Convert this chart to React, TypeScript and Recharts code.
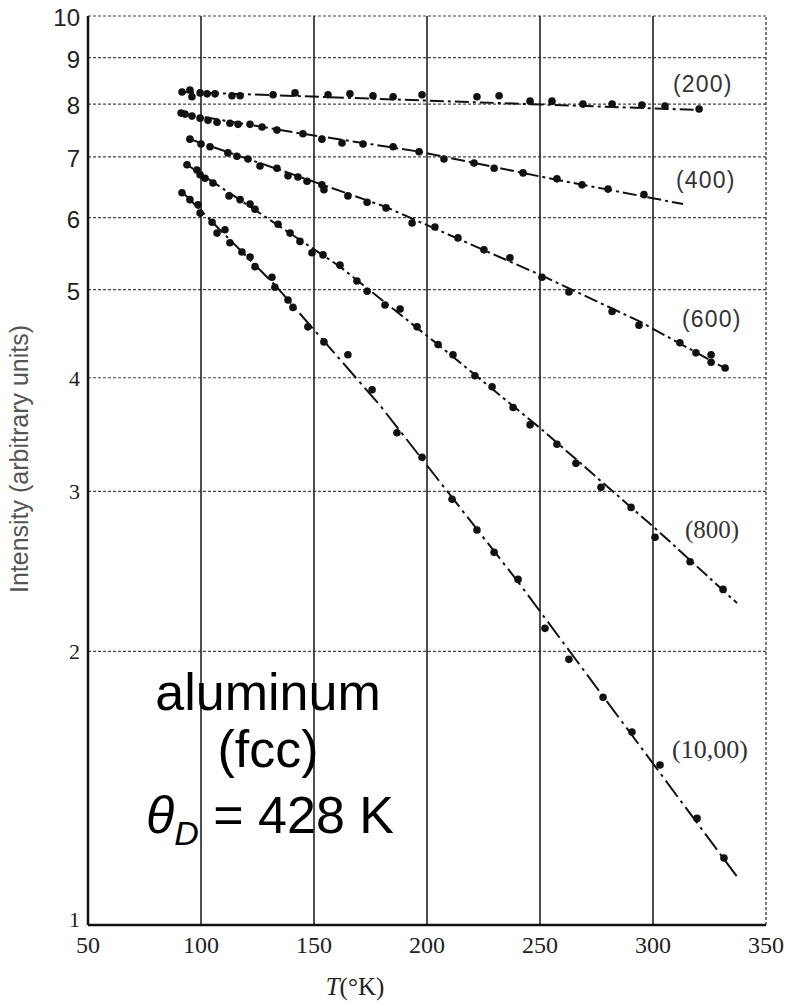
import React from 'react';
import { ScatterChart, Scatter, XAxis, YAxis, CartesianGrid, ReferenceLine } from 'recharts';

const xTicks = [50, 100, 150, 200, 250, 300, 350];
const yTicks = [1, 2, 3, 4, 5, 6, 7, 8, 9, 10];
const verticalGrid = [100, 150, 200, 250, 300];

const T200 = [91.6, 95.1, 96.0, 99.6, 102.7, 106.2, 113.7, 117.3, 131.9, 141.6, 156.2, 165.9, 176.1, 185.0, 197.8, 222.1, 231.9, 245.6, 255.3, 269.0, 281.9, 295.1, 305.3, 320.4];
const I200 = [8.25, 8.29, 8.15, 8.23, 8.21, 8.21, 8.17, 8.17, 8.19, 8.23, 8.19, 8.21, 8.17, 8.15, 8.19, 8.15, 8.17, 8.06, 8.06, 8.0, 8.0, 7.98, 7.96, 7.9];

const T400 = [91.2, 92.9, 96.0, 99.6, 103.1, 107.1, 112.8, 116.4, 121.7, 127.0, 133.6, 145.1, 153.5, 162.4, 171.7, 185.0, 196.5, 207.5, 220.8, 229.7, 242.5, 257.5, 268.6, 280.1, 296.0];
const I400 = [7.82, 7.8, 7.76, 7.72, 7.68, 7.64, 7.62, 7.6, 7.6, 7.55, 7.49, 7.42, 7.32, 7.25, 7.23, 7.18, 7.09, 6.96, 6.89, 6.8, 6.72, 6.62, 6.52, 6.45, 6.36];

const T600 = [95.1, 100.0, 104.0, 111.9, 115.9, 120.8, 126.1, 133.6, 138.5, 142.9, 146.9, 153.5, 154.4, 165.0, 173.5, 181.9, 193.4, 203.5, 213.7, 225.2, 236.7, 250.9, 262.8, 281.9, 293.8, 311.9, 319.0, 325.7, 325.7, 331.9];
const I600 = [7.32, 7.23, 7.18, 7.07, 7.01, 6.96, 6.84, 6.8, 6.67, 6.65, 6.58, 6.52, 6.44, 6.34, 6.24, 6.15, 5.92, 5.86, 5.7, 5.53, 5.42, 5.16, 4.97, 4.73, 4.57, 4.37, 4.26, 4.24, 4.16, 4.1];

const T800 = [93.8, 98.2, 99.6, 101.8, 105.3, 112.4, 117.3, 121.7, 123.9, 134.1, 139.4, 143.8, 149.1, 154.0, 161.5, 169.0, 173.5, 181.4, 188.1, 195.6, 204.9, 211.5, 221.2, 228.8, 238.1, 245.6, 257.5, 265.9, 277.0, 290.3, 300.9, 316.4, 331.0];
const I800 = [6.86, 6.77, 6.69, 6.63, 6.55, 6.34, 6.28, 6.21, 6.13, 5.9, 5.77, 5.65, 5.49, 5.46, 5.32, 5.11, 4.98, 4.81, 4.76, 4.55, 4.35, 4.24, 4.02, 3.91, 3.71, 3.55, 3.38, 3.22, 3.03, 2.88, 2.67, 2.51, 2.34];

const T1000 = [91.6, 95.1, 98.7, 99.6, 104.9, 107.1, 110.6, 112.8, 118.1, 121.7, 123.9, 131.4, 132.7, 138.5, 140.7, 147.3, 154.4, 165.0, 175.7, 186.7, 197.8, 211.1, 222.1, 229.7, 240.3, 252.2, 262.8, 277.9, 290.7, 303.1, 319.5, 331.4];
const I1000 = [6.39, 6.28, 6.2, 6.07, 5.93, 5.77, 5.82, 5.63, 5.5, 5.43, 5.3, 5.16, 5.03, 4.87, 4.78, 4.55, 4.38, 4.24, 3.88, 3.48, 3.27, 2.94, 2.72, 2.57, 2.4, 2.12, 1.96, 1.78, 1.63, 1.5, 1.31, 1.185];

// hand-drawn fit curves, vertices
const fitT200 = [90.7, 320.8];
const fitI200 = [8.25, 7.88];
const fitT400 = [90.7, 143.8, 196.9, 251.3, 313.3];
const fitI400 = [7.82, 7.43, 7.09, 6.65, 6.21];
const fitT600 = [95.1, 135.0, 181.4, 250.9, 294.3, 333.2];
const fitI600 = [7.32, 6.77, 6.17, 5.18, 4.61, 4.08];
const fitT800 = [93.8, 121.7, 161.5, 204.9, 251.3, 301.8, 337.2];
const fitI800 = [6.86, 6.17, 5.3, 4.35, 3.5, 2.72, 2.26];
const fitT1000 = [92.9, 132.7, 179.2, 240.3, 337.2];
const fitI1000 = [6.36, 5.06, 3.73, 2.385, 1.13];

const zip = (t: number[], v: number[]) => t.map((T, i) => ({ T, I: v[i] }));

const pointSeries = [zip(T200, I200), zip(T400, I400), zip(T600, I600), zip(T800, I800), zip(T1000, I1000)];
const fitSeries = [
  { data: zip(fitT200, fitI200), dash: '14 4 3 4' },
  { data: zip(fitT400, fitI400), dash: '14 4 3 4' },
  { data: zip(fitT600, fitI600), dash: '14 4 3 4' },
  { data: zip(fitT800, fitI800), dash: '14 4 3 4' },
  { data: zip(fitT1000, fitI1000), dash: '20 5 3 5' },
];

const Dot = (props: any) => <circle cx={props.cx} cy={props.cy} r={3.8} fill="#111" />;
const NoShape = () => <g />;

const YTick = (props: any) => {
  const { x, y, payload } = props;
  const v = payload.value;
  const serif = v < 5;
  const dy = v === 1 ? 2 : serif ? 8 : 10;
  return (
    <text x={x} y={y + dy} textAnchor="end" fontSize={serif ? 22 : 24}
      fontFamily={serif ? '"Liberation Serif", serif' : '"Liberation Sans", Arial, sans-serif'} fill="#222">
      {v}
    </text>
  );
};

const XTick = (props: any) => {
  const { x, y, payload } = props;
  return (
    <text x={x} y={y + 28} textAnchor="middle" fontSize={24}
      fontFamily='"Liberation Serif", serif' fill="#222">
      {payload.value}
    </text>
  );
};

export default function App() {
  return (
    <div style={{ position: 'absolute', left: 0, top: 0, width: 791, height: 1002, background: '#fff' }}>
      <ScatterChart width={791} height={1002} margin={{ top: 16, right: 25, bottom: 37, left: 28 }}>
        <CartesianGrid vertical={false} stroke="#444" strokeWidth={1.2} strokeDasharray="3 2" />
        {verticalGrid.map((v) => (
          <ReferenceLine key={v} x={v} stroke="#222" strokeWidth={1.6} />
        ))}
        <ReferenceLine x={350} stroke="#444" strokeWidth={1.4} strokeDasharray="3 2" />
        <XAxis type="number" dataKey="T" domain={[50, 350]} ticks={xTicks} allowDataOverflow
          height={40} tickLine={false} tickSize={0} tickMargin={0}
          axisLine={{ stroke: '#111', strokeWidth: 2.5 }} tick={<XTick />} interval={0} />
        <YAxis type="number" dataKey="I" scale="log" domain={[1, 10]} ticks={yTicks} allowDataOverflow
          width={60} tickLine={false} tickSize={0} tickMargin={8}
          axisLine={{ stroke: '#111', strokeWidth: 2.5 }} tick={<YTick />} interval={0} />
        {fitSeries.map((f, i) => (
          <Scatter key={'f' + i} data={f.data} isAnimationActive={false} shape={NoShape}
            line={{ stroke: '#111', strokeWidth: 2, strokeDasharray: f.dash }} lineType="joint" />
        ))}
        {pointSeries.map((d, i) => (
          <Scatter key={'p' + i} data={d} isAnimationActive={false} shape={Dot} />
        ))}
      </ScatterChart>
      <svg width={791} height={1002} style={{ position: 'absolute', left: 0, top: 0, pointerEvents: 'none' }}>
        <g fontFamily='"Liberation Sans", Arial, sans-serif' fill="#333">
          <text x={673} y={92} fontSize={23} letterSpacing={1.2}>(200)</text>
          <text x={676} y={188} fontSize={23} letterSpacing={1.2}>(400)</text>
          <text x={682} y={327} fontSize={23} letterSpacing={1.2}>(600)</text>
        </g>
        <g fontFamily='"Liberation Serif", serif' fill="#333">
          <text x={685} y={538} fontSize={25}>(800)</text>
          <text x={672} y={758} fontSize={26}>(10,00)</text>
        </g>
        <g fontFamily='"Liberation Sans", Arial, sans-serif' fill="#000" fontSize={52} textAnchor="middle">
          <text x={268} y={710}>aluminum</text>
          <text x={268} y={767}>(fcc)</text>
          <text x={270} y={833}>
            <tspan fontStyle="italic">θ</tspan>
            <tspan fontStyle="italic" fontSize={34} dy={12}>D</tspan>
            <tspan dy={-12}> = 428 K</tspan>
          </text>
        </g>
        <text x={19} y={459} transform="rotate(-90 19 459)" textAnchor="middle" dominantBaseline="central"
          fontFamily='"Liberation Sans", Arial, sans-serif' fontSize={25} fill="#555">
          Intensity (arbitrary units)
        </text>
        <text x={355} y={995} textAnchor="middle" fontFamily='"Liberation Serif", serif' fontSize={25} fill="#222">
          <tspan fontStyle="italic">T</tspan>(°K)
        </text>
      </svg>
    </div>
  );
}
